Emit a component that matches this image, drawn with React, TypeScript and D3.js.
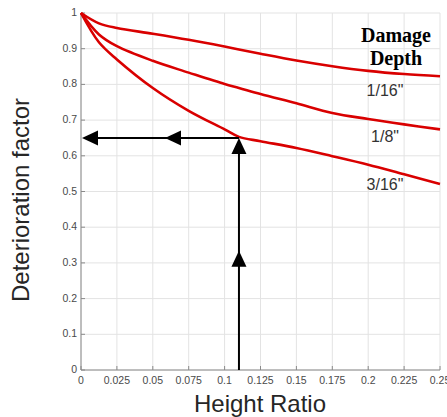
import React from "react";
import * as d3 from "d3";

const W = 447;
const H = 417;
const margin = { top: 13, right: 7, bottom: 47, left: 81 };

// Height ratio samples shared by all curves
const heightRatio = [0, 0.0125, 0.025, 0.05, 0.075, 0.1, 0.11, 0.125, 0.15, 0.175, 0.2, 0.225, 0.25];

// Deterioration factor per damage depth
const depth1_16 = [1, 0.971, 0.958, 0.942, 0.925, 0.906, 0.898, 0.886, 0.867, 0.851, 0.838, 0.829, 0.823];
const depth1_8 = [1, 0.94, 0.907, 0.866, 0.833, 0.801, 0.79, 0.773, 0.747, 0.72, 0.703, 0.688, 0.674];
const depth3_16 = [1, 0.918, 0.87, 0.79, 0.726, 0.674, 0.653, 0.641, 0.622, 0.599, 0.575, 0.548, 0.521];

const seriesLabels = ['1/16"', '1/8"', '3/16"'];

const xTicks = [0, 0.025, 0.05, 0.075, 0.1, 0.125, 0.15, 0.175, 0.2, 0.225, 0.25];
const xTickLabels = ["0", "0.025", "0.05", "0.075", "0.1", "0.125", "0.15", "0.175", "0.2", "0.225", "0.25"];
const yTicks = [0, 0.1, 0.2, 0.3, 0.4, 0.5, 0.6, 0.7, 0.8, 0.9, 1];
const yTickLabels = ["0", "0.1", "0.2", "0.3", "0.4", "0.5", "0.6", "0.7", "0.8", "0.9", "1"];

// Worked example: read-off path from height ratio to deterioration factor
const exampleRatio = 0.11;
const exampleFactor = 0.65;
const midArrowFactor = 0.334;
const midArrowRatio = 0.0585;

export default function App() {
  const innerW = W - margin.left - margin.right;
  const innerH = H - margin.top - margin.bottom;
  const x = d3.scaleLinear().domain([0, 0.25]).range([margin.left, margin.left + innerW]);
  const y = d3.scaleLinear().domain([0, 1]).range([margin.top + innerH, margin.top]);

  const line = d3
    .line<number>()
    .x((_, i) => x(heightRatio[i]))
    .y((d) => y(d))
    .curve(d3.curveCatmullRom.alpha(0.5));

  const series = [depth1_16, depth1_8, depth3_16];
  const sans = "'Liberation Sans', Arial, Helvetica, sans-serif";

  const head = 16; // arrowhead length
  const half = 7.5; // arrowhead half width
  const upHead = (cx: number, tipY: number) =>
    `M${cx},${tipY} L${cx - half},${tipY + head} L${cx + half},${tipY + head} Z`;
  const leftHead = (tipX: number, cy: number) =>
    `M${tipX},${cy} L${tipX + head},${cy - half} L${tipX + head},${cy + half} Z`;

  const ax = x(exampleRatio);
  const ay = y(exampleFactor);

  return (
    <svg
      width={W}
      height={H}
      style={{ position: "absolute", left: 0, top: 0, background: "#fff" }}
    >
      {/* grid */}
      <g stroke="#e3e3e3" strokeWidth={1}>
        {xTicks.map((t) => (
          <line key={"gx" + t} x1={x(t)} x2={x(t)} y1={y(0)} y2={y(1)} />
        ))}
        {yTicks.map((t) => (
          <line key={"gy" + t} x1={x(0)} x2={x(0.25)} y1={y(t)} y2={y(t)} />
        ))}
      </g>

      {/* axes */}
      <g stroke="#8a8a8a" strokeWidth={1}>
        <line x1={x(0)} x2={x(0)} y1={y(0)} y2={y(1)} />
        <line x1={x(0)} x2={x(0.25)} y1={y(0)} y2={y(0)} />
        {xTicks.map((t) => (
          <line key={"tx" + t} x1={x(t)} x2={x(t)} y1={y(0)} y2={y(0) - 4} />
        ))}
        {yTicks.map((t) => (
          <line key={"ty" + t} x1={x(0)} x2={x(0) + 4} y1={y(t)} y2={y(t)} />
        ))}
      </g>

      {/* tick labels */}
      <g fontFamily={sans} fontSize={10.5} fill="#4a4a4a">
        {xTicks.map((t, i) => (
          <text key={"lx" + t} x={x(t)} y={y(0) + 14} textAnchor="middle">
            {xTickLabels[i]}
          </text>
        ))}
        {yTicks.map((t, i) => (
          <text key={"ly" + t} x={x(0) - 4} y={y(t) + 3} textAnchor="end">
            {yTickLabels[i]}
          </text>
        ))}
      </g>

      {/* curves */}
      <g fill="none" stroke="#d90000" strokeWidth={2.6} strokeLinejoin="round">
        {series.map((s, i) => (
          <path key={seriesLabels[i]} d={line(s) || ""} />
        ))}
      </g>

      {/* read-off arrows */}
      <g>
        <line x1={ax} x2={ax} y1={y(0)} y2={ay + head - 1} stroke="#000" strokeWidth={2} />
        <line x1={ax} x2={x(0) + head - 1} y1={ay} y2={ay} stroke="#000" strokeWidth={2} />
        <path d={upHead(ax, ay)} fill="#000" />
        <path d={upHead(ax, y(midArrowFactor))} fill="#000" />
        <path d={leftHead(x(0) + 1, ay)} fill="#000" />
        <path d={leftHead(x(midArrowRatio), ay)} fill="#000" />
      </g>

      {/* depth legend */}
      <g fontFamily="'Liberation Serif', 'Times New Roman', serif" fontWeight="bold" fontSize={20} fill="#000" textAnchor="middle">
        <text x={396} y={42}>Damage</text>
        <text x={396} y={65}>Depth</text>
      </g>
      <g fontFamily={sans} fontSize={16} fill="#333" textAnchor="middle">
        <text x={385} y={96}>{seriesLabels[0]}</text>
        <text x={385} y={142}>{seriesLabels[1]}</text>
        <text x={385} y={190}>{seriesLabels[2]}</text>
      </g>

      {/* axis titles */}
      <text
        x={260}
        y={412}
        textAnchor="middle"
        fontFamily={sans}
        fontSize={24}
        fill="#262626"
      >
        Height Ratio
      </text>
      <text
        transform="translate(29,200) rotate(-90)"
        textAnchor="middle"
        fontFamily={sans}
        fontSize={24}
        fill="#262626"
      >
        Deterioration factor
      </text>
    </svg>
  );
}
